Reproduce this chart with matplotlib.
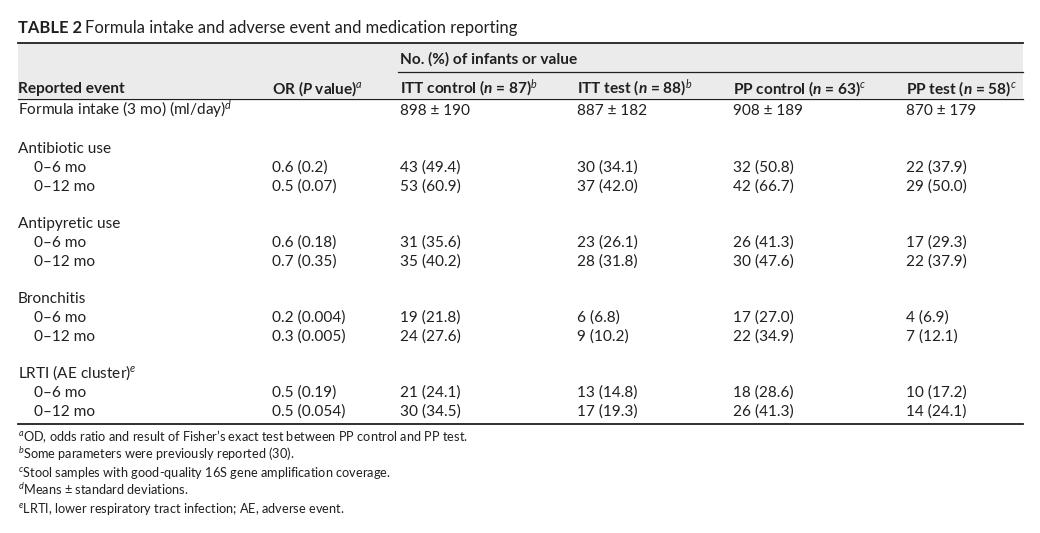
import matplotlib
matplotlib.use("Agg")
import matplotlib.pyplot as plt

plt.rcParams["font.family"] = ["Lato", "DejaVu Sans"]
plt.rcParams["mathtext.fontset"] = "custom"
plt.rcParams["mathtext.rm"] = "Lato"
plt.rcParams["mathtext.it"] = "Lato:italic"
plt.rcParams["mathtext.bf"] = "Lato:bold"
plt.rcParams["mathtext.bfit"] = "Lato:italic:bold"

# data
title_bold = "TABLE 2"
title_rest = "Formula intake and adverse event and medication reporting"
group_header = "No. (%) of infants or value"
col_headers = [
    r"ITT control ($\mathbfit{n}$ = 87)$^{\mathit{b}}$",
    r"ITT test ($\mathbfit{n}$ = 88)$^{\mathit{b}}$",
    r"PP control ($\mathbfit{n}$ = 63)$^{\mathit{c}}$",
    r"PP test ($\mathbfit{n}$ = 58)$^{\mathit{c}}$",
]
intake_mean = [898, 887, 908, 870]
intake_sd = [190, 182, 189, 179]

sections = ["Antibiotic use", "Antipyretic use", "Bronchitis", r"LRTI (AE cluster)$^{\mathit{e}}$"]
periods = ["0–6 mo", "0–12 mo"]
odds_ratio = ["0.6 (0.2)", "0.5 (0.07)", "0.6 (0.18)", "0.7 (0.35)",
              "0.2 (0.004)", "0.3 (0.005)", "0.5 (0.19)", "0.5 (0.054)"]
itt_control_n = [43, 53, 31, 35, 19, 24, 21, 30]
itt_control_pct = [49.4, 60.9, 35.6, 40.2, 21.8, 27.6, 24.1, 34.5]
itt_test_n = [30, 37, 23, 28, 6, 9, 13, 17]
itt_test_pct = [34.1, 42.0, 26.1, 31.8, 6.8, 10.2, 14.8, 19.3]
pp_control_n = [32, 42, 26, 30, 17, 22, 18, 26]
pp_control_pct = [50.8, 66.7, 41.3, 47.6, 27.0, 34.9, 28.6, 41.3]
pp_test_n = [22, 29, 17, 22, 4, 7, 10, 14]
pp_test_pct = [37.9, 50.0, 29.3, 37.9, 6.9, 12.1, 17.2, 24.1]

footnotes = [
    r"$^{\mathit{a}}$OD, odds ratio and result of Fisher’s exact test between PP control and PP test.",
    r"$^{\mathit{b}}$Some parameters were previously reported (30).",
    r"$^{\mathit{c}}$Stool samples with good-quality 16S gene amplification coverage.",
    r"$^{\mathit{d}}$Means ± standard deviations.",
    r"$^{\mathit{e}}$LRTI, lower respiratory tract infection; AE, adverse event.",
]

W, H = 1040, 533
fig = plt.figure(figsize=(W / 100, H / 100), dpi=100)
ax = fig.add_axes([0, 0, 1, 1])
ax.set_xlim(0, W)
ax.set_ylim(H, 0)
ax.axis("off")

ink = "#231f20"
fs = 11.1
fs_title = 11.9
fs_note = 9.2
left, right = 18, 1023
col_x = [400, 577, 733, 906]
or_x = 272


def put(x, y, s, size=fs, bold=False):
    return ax.text(x, y, s, fontsize=size, fontweight="bold" if bold else "normal",
                   color=ink, va="baseline", ha="left")


# title
t = put(left, 33, title_bold, size=fs_title, bold=True)
fig.canvas.draw()
bb = t.get_window_extent()
put(left + bb.width + 3, 33, title_rest, size=fs_title)

# header band
ax.fill_between([left, right], 43, 98, color="#ebebeb", lw=0, zorder=0)
ax.plot([left, right], [43, 43], color=ink, lw=1.3)
ax.plot([col_x[0] - 2, right], [72, 72], color=ink, lw=0.9)
ax.plot([left, right], [98.5, 98.5], color=ink, lw=0.9)
ax.plot([left, right], [423.5, 423.5], color=ink, lw=1.3)

put(col_x[0], 63.5, group_header, bold=True)
put(left, 93.3, "Reported event", bold=True)
put(or_x, 93.3, r"OR ($\mathbfit{P}$ value)$^{\mathit{a}}$", bold=True)
for x, h in zip(col_x, col_headers):
    put(x, 93.3, h, bold=True)

# formula intake row
put(left, 115, r"Formula intake (3 mo) (ml/day)$^{\mathit{d}}$")
for x, m, s in zip(col_x, intake_mean, intake_sd):
    put(x, 115, f"{m} ± {s}")

# sections
groups = [(itt_control_n, itt_control_pct), (itt_test_n, itt_test_pct),
          (pp_control_n, pp_control_pct), (pp_test_n, pp_test_pct)]
y = 152.7
k = 0
for name in sections:
    put(left, y, name)
    for j, p in enumerate(periods):
        yy = y + 19 * (j + 1)
        put(34, yy, p)
        put(or_x, yy, odds_ratio[k])
        for x, (ns, pcts) in zip(col_x, groups):
            put(x, yy, f"{ns[k]} ({pcts[k]:.1f})")
        k += 1
    y += 75

# footnotes
for i, note in enumerate(footnotes):
    put(left, 440.7 + 18 * i, note, size=fs_note)

fig.savefig("out.png", dpi=100)
